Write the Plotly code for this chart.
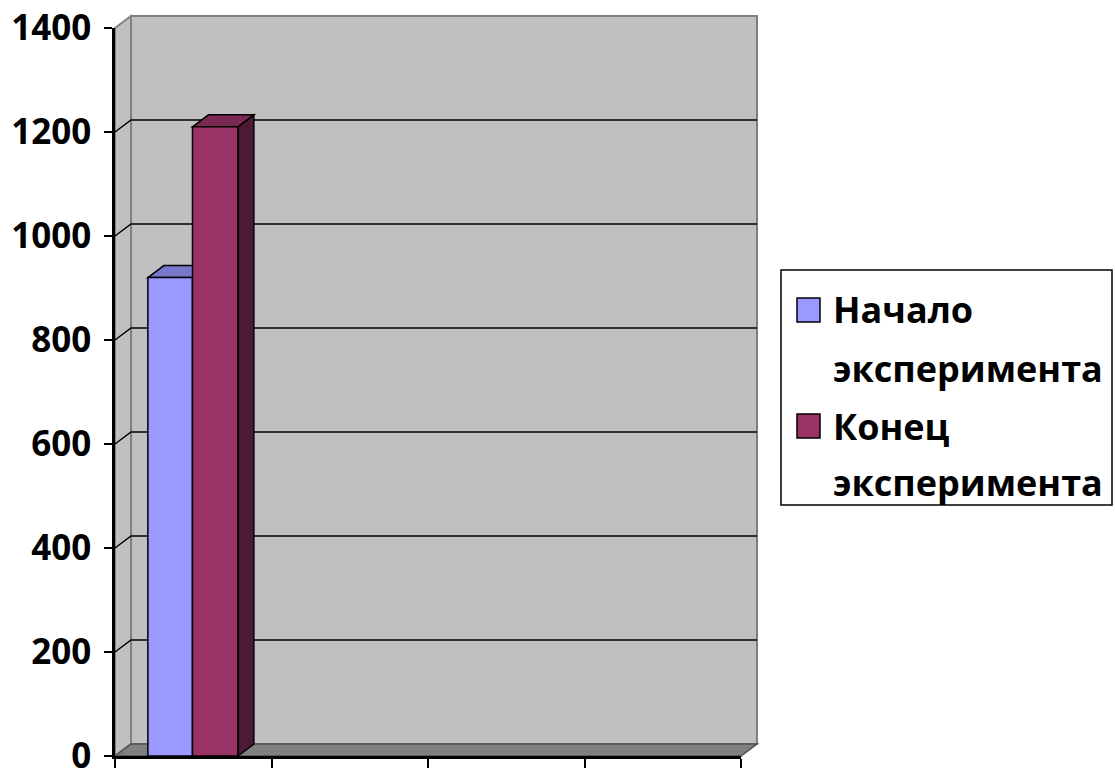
import plotly.graph_objects as go

# ---- data ----
categories = [0, 1, 2, 3]
series_names = ["Начало эксперимента", "Конец эксперимента"]
start_values = [920, None, None, None]
end_values = [1210, None, None, None]
y_ticks = [0, 200, 400, 600, 800, 1000, 1200, 1400]
x_bounds = [-0.5, 0.5, 1.5, 2.5, 3.5]

# ---- styling / layout constants ----
FIG_W, FIG_H = 1115, 769
M_L, M_R, M_T, M_B = 115, 374, 28, 13
PLOT_W = FIG_W - M_L - M_R
PLOT_H = FIG_H - M_T - M_B
X_RANGE = [x_bounds[0], x_bounds[-1]]
Y_RANGE = [y_ticks[0], y_ticks[-1]]
DEPTH_X, DEPTH_Y = 16, 12          # 3D depth of the box, in pixels

WALL = "#C0C0C0"
FLOOR = "#808080"
EDGE = "#808080"
FONT = "Open Sans"
colors = ["#9999FF", "#993366"]
top_colors = ["#7878CC", "#7A2952"]
side_colors = ["#5A5AA0", "#4D1A36"]
bar_offsets = [-0.29, -0.005]
bar_widths = [0.285, 0.29]

# depth expressed in paper and data units
dxp = DEPTH_X / PLOT_W
dyp = DEPTH_Y / PLOT_H
dxd = DEPTH_X * (X_RANGE[1] - X_RANGE[0]) / PLOT_W
dyd = DEPTH_Y * (Y_RANGE[1] - Y_RANGE[0]) / PLOT_H


def py_paper(v):
    return (v - Y_RANGE[0]) / (Y_RANGE[1] - Y_RANGE[0])


def to_paper(px, py):
    return (px - M_L) / PLOT_W, (FIG_H - M_B - py) / PLOT_H


def poly(points):
    return "M " + " L ".join(f"{x},{y}" for x, y in points) + " Z"


def line_path(points):
    return "M " + " L ".join(f"{x},{y}" for x, y in points)


fig = go.Figure()

series = [start_values, end_values]
for name, vals, col, off, w in zip(series_names, series, colors, bar_offsets, bar_widths):
    fig.add_trace(go.Bar(
        x=categories, y=vals, name=name, offset=off, width=w,
        marker=dict(color=col, line=dict(color="black", width=1.5)),
        showlegend=False,
    ))

shapes = []

# back wall
shapes.append(dict(type="path", xref="paper", yref="paper", layer="below",
                   path=poly([(dxp, dyp), (1 + dxp, dyp), (1 + dxp, 1 + dyp), (dxp, 1 + dyp)]),
                   fillcolor=WALL, line=dict(color=EDGE, width=2)))
# left side wall
shapes.append(dict(type="path", xref="paper", yref="paper", layer="below",
                   path=poly([(0, 0), (dxp, dyp), (dxp, 1 + dyp), (0, 1)]),
                   fillcolor=WALL, line=dict(color=EDGE, width=2)))
# floor
shapes.append(dict(type="path", xref="paper", yref="paper", layer="below",
                   path=poly([(0, 0), (1, 0), (1 + dxp, dyp), (dxp, dyp)]),
                   fillcolor=FLOOR, line=dict(color="#505050", width=1.5)))
# gridlines along the side and back walls
for v in y_ticks[1:-1]:
    yp = py_paper(v)
    shapes.append(dict(type="path", xref="paper", yref="paper", layer="below",
                       path=line_path([(0, yp), (dxp, yp + dyp), (1 + dxp, yp + dyp)]),
                       line=dict(color="black", width=1.5)))

# 3D faces of the columns
for vals, off, w, tc, sc in zip(series, bar_offsets, bar_widths, top_colors, side_colors):
    for c, v in zip(categories, vals):
        if v is None:
            continue
        x0 = c + off
        x1 = x0 + w
        shapes.append(dict(type="path", xref="x", yref="y", layer="below",
                           path=poly([(x1, 0), (x1 + dxd, dyd), (x1 + dxd, v + dyd), (x1, v)]),
                           fillcolor=sc, line=dict(color="black", width=1.5)))
        shapes.append(dict(type="path", xref="x", yref="y", layer="below",
                           path=poly([(x0, v), (x0 + dxd, v + dyd), (x1 + dxd, v + dyd), (x1, v)]),
                           fillcolor=tc, line=dict(color="black", width=1.5)))

# legend box
lx0, ly0 = to_paper(781, 505)
lx1, ly1 = to_paper(1112, 270)
shapes.append(dict(type="rect", xref="paper", yref="paper", x0=lx0, y0=ly0, x1=lx1, y1=ly1,
                   fillcolor="white", line=dict(color="black", width=1.5)))

annotations = []
key_tops = [298, 414]
line_centers = [(310, 368), (426, 482)]
for name, col, top, centers in zip(series_names, colors, key_tops, line_centers):
    kx0, ky0 = to_paper(797, top + 24)
    kx1, ky1 = to_paper(820, top)
    shapes.append(dict(type="rect", xref="paper", yref="paper", x0=kx0, y0=ky0, x1=kx1, y1=ky1,
                       fillcolor=col, line=dict(color="black", width=1.5)))
    for word, cy in zip(name.split(" "), centers):
        ax, ay = to_paper(831, cy)
        annotations.append(dict(xref="paper", yref="paper", x=ax, y=ay, xanchor="left",
                                yanchor="middle", showarrow=False, text=word,
                                font=dict(family=FONT, size=36, color="black", weight="bold")))

fig.update_layout(
    width=FIG_W, height=FIG_H,
    margin=dict(l=M_L, r=M_R, t=M_T, b=M_B, autoexpand=False),
    paper_bgcolor="white", plot_bgcolor="rgba(0,0,0,0)",
    barmode="overlay", showlegend=False,
    shapes=shapes, annotations=annotations,
    xaxis=dict(range=X_RANGE, tickmode="array", tickvals=x_bounds, ticktext=[""] * len(x_bounds),
               ticks="outside", ticklen=9, tickwidth=2, tickcolor="black",
               showline=True, linecolor="black", linewidth=2.5, showgrid=False, zeroline=False,
               automargin=False, fixedrange=True),
    yaxis=dict(range=Y_RANGE, tickmode="array", tickvals=y_ticks,
               ticktext=[str(t) for t in y_ticks],
               ticks="outside", ticklen=8, tickwidth=2, tickcolor="black",
               showline=True, linecolor="black", linewidth=2.5, showgrid=False, zeroline=False,
               tickfont=dict(family=FONT, size=35, color="black", weight="bold"),
               ticklabelstandoff=6, ticklabeloverflow="allow",
               automargin=False, fixedrange=True),
)

fig.write_html("out.html")
